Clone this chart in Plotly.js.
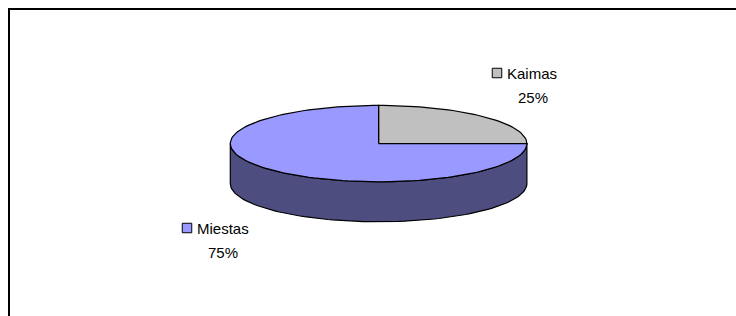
<!DOCTYPE html>
<html>
<head>
<meta charset="utf-8">
<script src="https://cdn.plot.ly/plotly-3.0.1.min.js"></script>
<style>html,body{margin:0;padding:0;background:#fff;}#chart{width:736px;height:316px;}</style>
</head>
<body>
<div id="chart"></div>
<script>
// Data
const categories = ['Miestas', 'Kaimas'];
const values = [75, 25];
const topColors = ['#9999FF', '#C0C0C0'];
const sideColors = ['#4D4D80', '#808080'];

// Geometry (pixel space of the figure)
const cx = 378.6, cy = 143.6, rx = 148.3, ry = 38.2, depth = 40;
// Kaimas occupies the first quarter clockwise from 12 o'clock, then Miestas
const order = [1, 0];
const total = values.reduce((a, b) => a + b, 0);

function pt(deg, dy) {
  const t = deg * Math.PI / 180;
  return [cx + rx * Math.sin(t), cy - ry * Math.cos(t) + (dy || 0)];
}
function arc(a0, a1, dy) {
  const xs = [], ys = [];
  const n = Math.max(2, Math.ceil(Math.abs(a1 - a0) / 2));
  for (let i = 0; i <= n; i++) {
    const p = pt(a0 + (a1 - a0) * i / n, dy);
    xs.push(p[0]); ys.push(p[1]);
  }
  return [xs, ys];
}

const traces = [];
const tops = [];
let acc = 0;
order.forEach(idx => {
  const a0 = acc / total * 360;
  acc += values[idx];
  const a1 = acc / total * 360;
  const s0 = Math.max(a0, 90), s1 = Math.min(a1, 270);
  if (s1 > s0) {
    const up = arc(s0, s1, 0), dn = arc(s1, s0, depth);
    traces.push({
      type: 'scatter', mode: 'lines',
      x: up[0].concat(dn[0]).concat([up[0][0]]),
      y: up[1].concat(dn[1]).concat([up[1][0]]),
      fill: 'toself', fillcolor: sideColors[idx],
      line: {color: '#000', width: 1.2}, hoverinfo: 'skip', showlegend: false
    });
  }
  const a = arc(a0, a1, 0);
  tops.push({
    type: 'scatter', mode: 'lines',
    x: [cx].concat(a[0]).concat([cx]),
    y: [cy].concat(a[1]).concat([cy]),
    fill: 'toself', fillcolor: topColors[idx],
    line: {color: '#000', width: 1.2}, hoverinfo: 'skip', showlegend: false
  });
});
const allTraces = traces.concat(tops);

// Labels
const labelPos = {Kaimas: [497, 73], Miestas: [187, 228]};
const font = {family: 'Liberation Sans, Arial, sans-serif', size: 15, color: '#000'};
const annotations = [];
categories.forEach((c, i) => {
  const p = labelPos[c];
  allTraces.push({
    type: 'scatter', mode: 'markers', x: [p[0]], y: [p[1]],
    marker: {symbol: 'square', size: 9.5, color: topColors[i], line: {color: '#000', width: 1}},
    hoverinfo: 'skip', showlegend: false
  });
  annotations.push({x: p[0] + 8, y: p[1], xref: 'x', yref: 'y', text: c, showarrow: false,
    xanchor: 'left', yanchor: 'middle', font: font});
  annotations.push({x: p[0] + 36, y: p[1] + 24, xref: 'x', yref: 'y',
    text: Math.round(values[i] / total * 100) + '%', showarrow: false,
    xanchor: 'center', yanchor: 'middle', font: font});
});

const layout = {
  width: 736, height: 316,
  margin: {l: 0, r: 0, t: 0, b: 0},
  paper_bgcolor: '#fff', plot_bgcolor: '#fff',
  xaxis: {range: [0, 736], visible: false, fixedrange: true},
  yaxis: {range: [316, 0], visible: false, fixedrange: true},
  showlegend: false,
  annotations: annotations,
  shapes: [{type: 'rect', xref: 'x', yref: 'y', x0: 9, y0: 9, x1: 760, y1: 340,
    line: {color: '#000', width: 2}}]
};
Plotly.newPlot('chart', allTraces, layout, {displayModeBar: false, staticPlot: true});
</script>
</body>
</html>
